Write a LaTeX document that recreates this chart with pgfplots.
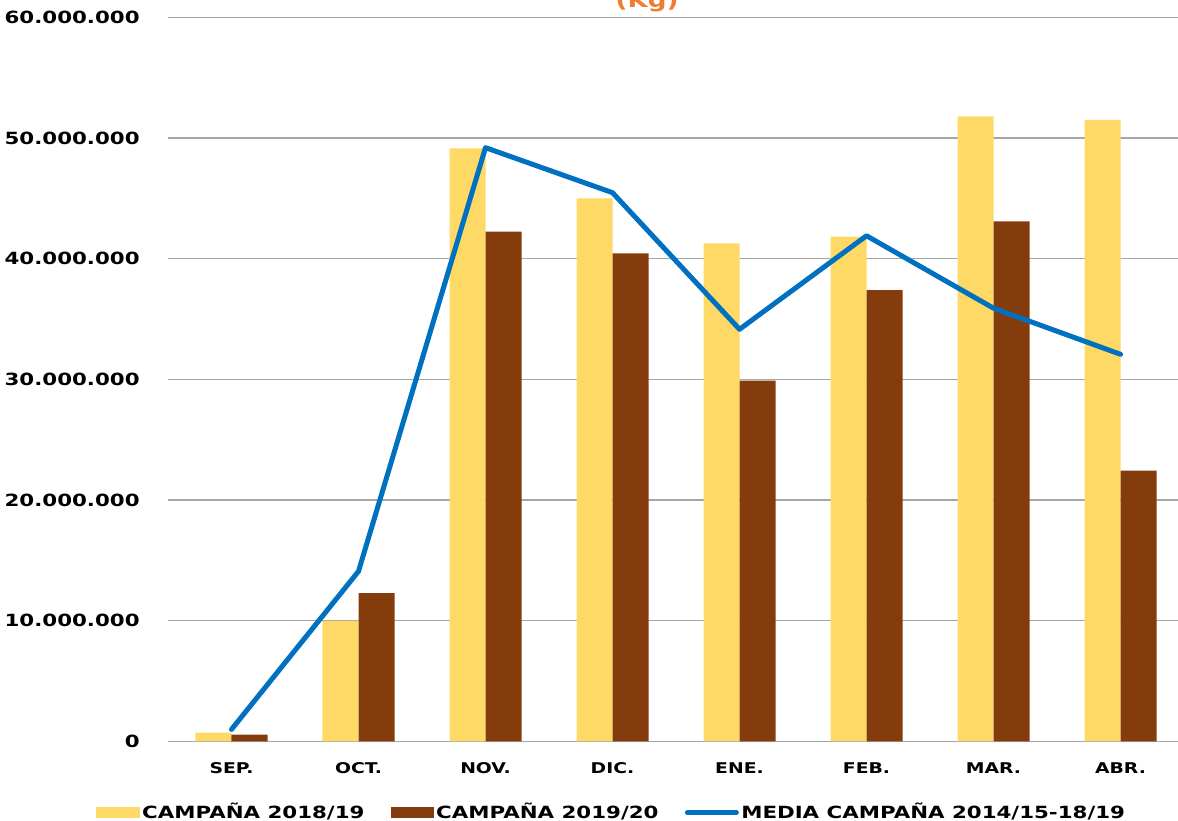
\documentclass[border=0pt]{standalone}
\usepackage{pgfplots}
\pgfplotsset{compat=1.18}
\usepackage{fontspec}
\setmainfont{DejaVu Sans}
\newfontfamily\cf[FakeStretch=1.27]{DejaVu Sans}
\definecolor{cyel}{HTML}{FFD966}
\definecolor{cbrn}{HTML}{843C0C}
\definecolor{cblu}{HTML}{0070C0}
\definecolor{cgrid}{HTML}{A6A6A6}
\definecolor{corg}{HTML}{ED7D31}
\begin{document}
\begin{tikzpicture}
\begin{axis}[
  name=ax,
  scale only axis,
  width=508pt, height=362.1pt,
  xmin=-0.5, xmax=7.5, ymin=0, ymax=60,
  axis line style={draw=none},
  ymajorgrids, grid style={cgrid, line width=0.6pt},
  ytick={0,10,20,30,40,50,60},
  yticklabels={0,10.000.000,20.000.000,30.000.000,40.000.000,50.000.000,60.000.000},
  xtick={0,1,2,3,4,5,6,7},
  xticklabels={SEP.,OCT.,NOV.,DIC.,ENE.,FEB.,MAR.,ABR.},
  major tick length=0pt,
  tick style={draw=none},
  yticklabel style={font=\cf\bfseries\fontsize{8.4}{10}\selectfont, anchor=east, inner sep=0pt, xshift=-14pt},
  xticklabel style={font=\cf\bfseries\fontsize{7.4}{9}\selectfont, anchor=base, inner sep=0pt, yshift=-15.8pt},
  legend columns=3,
  legend style={draw=none, fill=none, at={(0.4366,0)}, anchor=center, yshift=-35.5pt,
    font=\cf\bfseries\fontsize{8.4}{10}\selectfont,
    nodes={inner sep=1.2pt},
    /tikz/every even column/.append style={column sep=12pt}},
  legend cell align=left,
]
\addplot[ybar, bar width=18pt, bar shift=-9pt, fill=cyel, draw=none,
  legend image code/.code={\fill[cyel] (0pt,-2.6pt) rectangle (22pt,2.6pt);}]
  coordinates {(0,0.73) (1,10.0) (2,49.15) (3,45.0) (4,41.27) (5,41.82) (6,51.8) (7,51.5)};
\addlegendentry{CAMPAÑA 2018/19}
\addplot[ybar, bar width=18pt, bar shift=9pt, fill=cbrn, draw=none,
  legend image code/.code={\fill[cbrn] (0pt,-2.6pt) rectangle (21.5pt,2.6pt);}]
  coordinates {(0,0.56) (1,12.3) (2,42.24) (3,40.45) (4,29.9) (5,37.4) (6,43.1) (7,22.44)};
\addlegendentry{CAMPAÑA 2019/20}
\addplot[cblu, line width=2.5pt, line join=round, line cap=round, mark=none,
  legend image code/.code={\draw[cblu, line width=2.5pt] (0pt,0pt) -- (24.5pt,0pt);}]
  coordinates {(0,1.0) (1,14.1) (2,49.2) (3,45.47) (4,34.15) (5,41.9) (6,35.9) (7,32.08)};
\addlegendentry{MEDIA CAMPAÑA 2014/15-18/19}
\end{axis}
\node[anchor=base, text=corg, font=\cf\bfseries\fontsize{10.3}{12}\selectfont] at ([shift={(239.5pt,4.65pt)}]ax.north west) {(Kg)};
\pgfresetboundingbox
\path ([shift={(-84pt,-39.65pt)}]ax.south west) rectangle ([shift={(505pt,8.65pt)}]ax.north west);
\end{tikzpicture}
\end{document}
